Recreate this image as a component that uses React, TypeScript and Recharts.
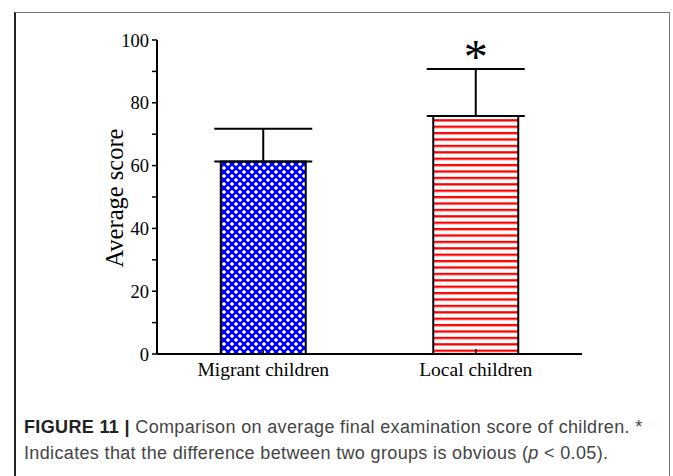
import React from 'react';
import { BarChart, Bar, XAxis, YAxis, ErrorBar, Cell, ReferenceDot } from 'recharts';

// values
const categories = ['Migrant children', 'Local children'];
const averageScores = [61.3, 75.8];
const scoreErrors = [10.4, 15.0];
const significant = [false, true];
const yTicks = [0, 10, 20, 30, 40, 50, 60, 70, 80, 90, 100];
const barFills = ['url(#migrantHatch)', 'url(#localStripes)'];

const data = categories.map((name, i) => ({
  name,
  score: averageScores[i],
  err: [0, scoreErrors[i]],
}));

const serif = '"Liberation Serif", "Times New Roman", serif';

const CategoryTick = (props: any) => {
  const { x, y, payload } = props;
  return (
    <g>
      <line x1={x} y1={y} x2={x} y2={y - 5} stroke="#000" strokeWidth={1.5} />
      <text x={x} y={y + 22} textAnchor="middle" fontFamily={serif} fontSize={19.5} fill="#000">
        {payload.value}
      </text>
    </g>
  );
};

const YTitle = (props: any) => {
  const vb = props.viewBox || { x: 97, y: 40, width: 60, height: 314 };
  const cx = vb.x + 17;
  const cy = vb.y + vb.height / 2 + 1;
  return (
    <text
      x={cx}
      y={cy}
      transform={`rotate(-90 ${cx} ${cy})`}
      textAnchor="middle"
      dominantBaseline="central"
      fontFamily={serif}
      fontSize={24.5}
      fill="#000"
    >
      Average score
    </text>
  );
};

const Asterisk = (props: any) => {
  const vb = props.viewBox || {};
  const cx = vb.x + (vb.width || 0) / 2;
  const cy = vb.y + (vb.height || 0) / 2;
  return (
    <text x={cx} y={cy + 4} textAnchor="middle" fontFamily={serif} fontSize={48} fill="#000">
      *
    </text>
  );
};

export default function App() {
  const sigIndex = significant.indexOf(true);
  return (
    <div style={{ position: 'absolute', left: 0, top: 0, width: 673, height: 476, background: '#fff', overflow: 'hidden' }}>
      <svg width={0} height={0} style={{ position: 'absolute' }}>
        <defs>
          <pattern id="migrantHatch" patternUnits="userSpaceOnUse" width={8} height={8}>
            <rect width={8} height={8} fill="#0000ff" />
            <polygon points="4,1.8 6.2,4 4,6.2 1.8,4" fill="#fff" />
            <polygon points="0,-2.2 2.2,0 0,2.2 -2.2,0" fill="#fff" />
            <polygon points="8,-2.2 10.2,0 8,2.2 5.8,0" fill="#fff" />
            <polygon points="0,5.8 2.2,8 0,10.2 -2.2,8" fill="#fff" />
            <polygon points="8,5.8 10.2,8 8,10.2 5.8,8" fill="#fff" />
          </pattern>
          <pattern id="localStripes" patternUnits="userSpaceOnUse" y={4} width={10} height={6.4}>
            <rect width={10} height={6.4} fill="#fff" />
            <rect width={10} height={2.3} fill="#ff0000" />
          </pattern>
        </defs>
      </svg>

      <div
        style={{
          position: 'absolute',
          left: 14,
          top: 12,
          width: 656,
          height: 480,
          borderLeft: '2px solid #222',
          borderTop: '1px solid #777',
          borderRight: '1px solid #777',
          boxSizing: 'border-box',
        }}
      />

      <div style={{ position: 'absolute', left: 0, top: 0 }}>
        <BarChart
          width={673}
          height={400}
          data={data}
          margin={{ top: 40, right: 91, left: 97, bottom: 16 }}
          barCategoryGap="30%"
        >
          <XAxis
            xAxisId="minor"
            type="number"
            domain={[0, 2]}
            ticks={[1]}
            height={0}
            axisLine={false}
            tickSize={5}
            tickLine={{ stroke: '#000', strokeWidth: 1.5 }}
            tickFormatter={() => ''}
          />
          <XAxis
            xAxisId="cat"
            dataKey="name"
            height={30}
            axisLine={{ stroke: '#000', strokeWidth: 2 }}
            tickLine={false}
            tickSize={0}
            tickMargin={0}
            tick={<CategoryTick />}
            interval={0}
          />
          <YAxis
            width={60}
            domain={[0, 100]}
            ticks={yTicks}
            interval={0}
            tickFormatter={(v: number) => (v % 20 === 0 ? String(v) : '')}
            axisLine={{ stroke: '#000', strokeWidth: 2 }}
            tickLine={{ stroke: '#000', strokeWidth: 1.5 }}
            tickSize={5}
            tickMargin={3}
            tick={{ fontFamily: serif, fontSize: 18.5, fill: '#000' }}
            label={<YTitle />}
          />
          <Bar
            xAxisId="cat"
            dataKey="score"
            stroke="#000"
            strokeWidth={2}
            isAnimationActive={false}
          >
            {data.map((d, i) => (
              <Cell key={d.name} fill={barFills[i]} />
            ))}
            <ErrorBar dataKey="err" width={49} stroke="#000" strokeWidth={2} direction="y" />
          </Bar>
          {sigIndex >= 0 && (
            <ReferenceDot
              xAxisId="cat"
              x={categories[sigIndex]}
              y={averageScores[sigIndex] + scoreErrors[sigIndex]}
              r={0}
              fill="none"
              stroke="none"
              label={<Asterisk />}
            />
          )}
        </BarChart>
      </div>

      <div
        style={{
          position: 'absolute',
          left: 24,
          top: 414,
          width: 645,
          fontFamily: '"Liberation Sans", Arial, sans-serif',
          fontSize: 18,
          letterSpacing: '0.35px',
          lineHeight: '26px',
          color: '#444',
          whiteSpace: 'nowrap',
        }}
      >
        <span style={{ fontWeight: 'bold', color: '#222' }}>FIGURE 11 | </span>
        Comparison on average final examination score of children. *
        <br />
        Indicates that the difference between two groups is obvious (<i>p</i> &lt; 0.05).
      </div>
    </div>
  );
}
